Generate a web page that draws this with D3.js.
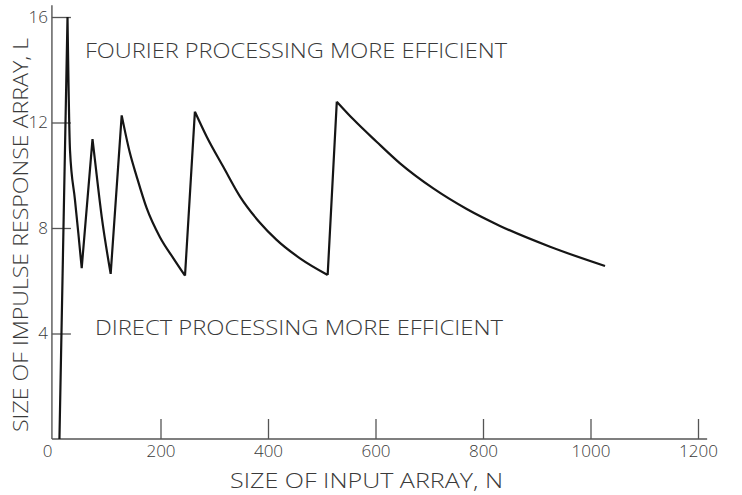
<!DOCTYPE html>
<html>
<head>
<meta charset="utf-8">
<script src="https://cdn.jsdelivr.net/npm/d3@7"></script>
<style>
  html, body { margin: 0; padding: 0; background: #fff; }
  svg { display: block; }
  text { font-family: "Open Sans", "DejaVu Sans", sans-serif; font-weight: 300; fill: #3a3a3a; }
</style>
</head>
<body>
<svg id="chart" width="742" height="495"></svg>
<script>
// ---- data ----
const inputSize = [12, 27, 31.6, 40.9, 47.1, 53.4,
                   73.5, 78, 90.6, 107.3,
                   127.8, 143, 155.7, 174.3, 199, 224, 245.6,
                   264, 286, 316.8, 348, 385, 416, 459.5, 511,
                   528, 558.7, 602, 645.6, 707.5, 769.7, 831.6, 924.7, 1027];
const impulseSize = [0, 16, 10.96, 9.06, 7.81, 6.48,
                     11.37, 10.58, 8.43, 6.26,
                     12.27, 10.85, 9.95, 8.75, 7.65, 6.85, 6.19,
                     12.41, 11.46, 10.32, 9.19, 8.2, 7.55, 6.85, 6.22,
                     12.79, 12.12, 11.27, 10.45, 9.5, 8.72, 8.08, 7.29, 6.56];
const xTicks = [0, 200, 400, 600, 800, 1000, 1200];
const yTicks = [4, 8, 12, 16];
const xAxisExtent = [-2, 1217];
const yAxisExtent = [0, 16.45];
const xTitle = "SIZE OF INPUT ARRAY, N";
const yTitle = "SIZE OF IMPULSE RESPONSE ARRAY, L";
const upperNote = "FOURIER PROCESSING MORE EFFICIENT";
const lowerNote = "DIRECT PROCESSING MORE EFFICIENT";

// ---- scales ----
const svg = d3.select("#chart");
const x = d3.scaleLinear().domain([0, 1200]).range([53, 698]);
const y = d3.scaleLinear().domain([0, 16]).range([439, 17]);
const axisColor = "#555";

// spines
svg.append("line")
  .attr("x1", x(xAxisExtent[0])).attr("x2", x(xAxisExtent[1]))
  .attr("y1", y(0)).attr("y2", y(0))
  .attr("stroke", axisColor).attr("stroke-width", 1.4);
svg.append("line")
  .attr("x1", x(xAxisExtent[0])).attr("x2", x(xAxisExtent[0]))
  .attr("y1", y(yAxisExtent[0])).attr("y2", y(yAxisExtent[1]))
  .attr("stroke", axisColor).attr("stroke-width", 1.4);

// x axis
const gx = svg.append("g")
  .attr("transform", `translate(0,${y(0)})`)
  .call(d3.axisBottom(x).tickValues(xTicks).tickFormat(d3.format("d"))
        .tickSizeInner(-20).tickSizeOuter(0).tickPadding(6));
gx.select(".domain").remove();
gx.selectAll(".tick line").attr("stroke", axisColor).attr("stroke-width", 1.3)
  .filter(d => d === 0).remove();
gx.selectAll(".tick text").attr("font-size", 17).attr("fill", "#3a3a3a");
gx.selectAll(".tick text").filter(d => d === 0)
  .attr("text-anchor", "end").attr("dx", -1);
gx.attr("font-family", null);

// y axis
const gy = svg.append("g")
  .attr("transform", `translate(${x(xAxisExtent[0])},0)`)
  .call(d3.axisLeft(y).tickValues(yTicks).tickFormat(d3.format("d"))
        .tickSizeInner(-19).tickSizeOuter(0).tickPadding(4));
gy.select(".domain").remove();
gy.selectAll(".tick line").attr("stroke", axisColor).attr("stroke-width", 1.3);
gy.selectAll(".tick text").attr("font-size", 17).attr("fill", "#3a3a3a");
gy.attr("font-family", null);

// curve: rising strokes straight, decaying strokes smooth
const pts = inputSize.map((n, i) => [n, impulseSize[i]]);
const segs = [];
let cur = [pts[0]];
let rising = pts[1][1] > pts[0][1];
for (let i = 1; i < pts.length; i++) {
  const nowRising = pts[i][1] > pts[i - 1][1];
  if (nowRising !== rising) {
    segs.push({ rising, pts: cur });
    cur = [pts[i - 1]];
    rising = nowRising;
  }
  cur.push(pts[i]);
}
segs.push({ rising, pts: cur });

const lineStraight = d3.line().x(d => x(d[0])).y(d => y(d[1])).curve(d3.curveLinear);
const lineSmooth = d3.line().x(d => x(d[0])).y(d => y(d[1])).curve(d3.curveMonotoneX);
svg.append("path")
  .attr("d", segs.map(s => (s.rising ? lineStraight(s.pts) : lineSmooth(s.pts))).join(""))
  .attr("fill", "none").attr("stroke", "#151515").attr("stroke-width", 2.2)
  .attr("stroke-linejoin", "miter").attr("stroke-miterlimit", 10);

// notes inside the plot
svg.append("text").text(upperNote)
  .attr("x", 85).attr("y", 58).attr("font-size", 20)
  .attr("textLength", 422).attr("lengthAdjust", "spacingAndGlyphs");
svg.append("text").text(lowerNote)
  .attr("x", 95).attr("y", 335).attr("font-size", 20)
  .attr("textLength", 408).attr("lengthAdjust", "spacingAndGlyphs");

// axis titles
svg.append("text").text(xTitle)
  .attr("x", 230).attr("y", 488).attr("font-size", 20)
  .attr("textLength", 273).attr("lengthAdjust", "spacingAndGlyphs");
svg.append("text").text(yTitle)
  .attr("transform", "translate(28,432) rotate(-90)")
  .attr("x", 0).attr("y", 0).attr("font-size", 20)
  .attr("textLength", 394).attr("lengthAdjust", "spacingAndGlyphs");
</script>
</body>
</html>
